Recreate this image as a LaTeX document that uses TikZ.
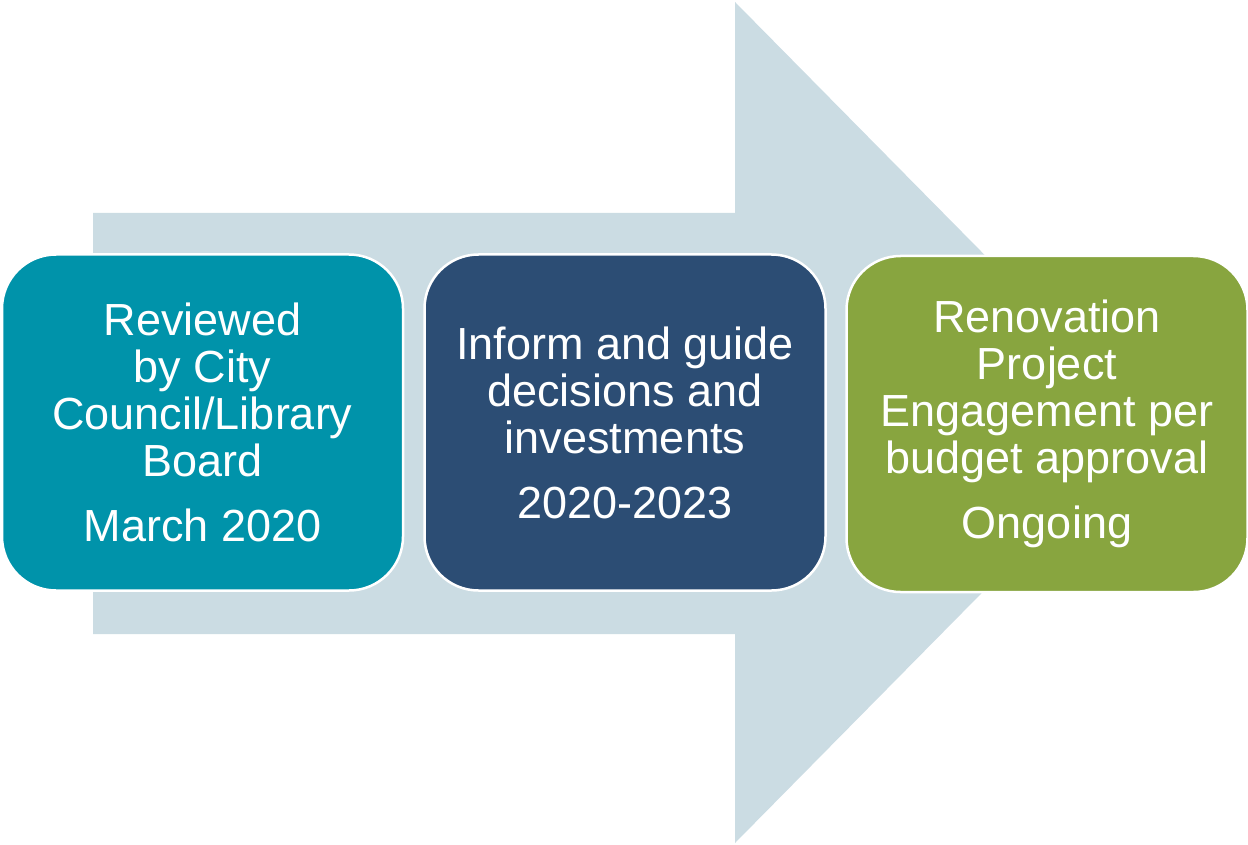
\documentclass[tikz,border=0pt]{standalone}
\usepackage{fontspec}
\setmainfont{Liberation Sans}
\definecolor{arrowc}{HTML}{CBDCE3}
\definecolor{tealc}{HTML}{0093AA}
\definecolor{navyc}{HTML}{2C4D74}
\definecolor{greenc}{HTML}{88A53F}
\begin{document}
\begin{tikzpicture}[x=1pt,y=-1pt,
  card/.style={draw=white, line width=2.5pt, rounded corners=54pt, text=white,
    align=center, inner sep=0pt, minimum width=401pt, minimum height=336pt,
    font=\fontsize{45}{47}\selectfont}]
\useasboundingbox (0,0) rectangle (1248,845);
\fill[arrowc] (93,213) -- (735,213) -- (735,2) -- (1150,422.5) -- (735,843) -- (735,634) -- (93,634) -- cycle;
\node[card, fill=tealc] (b1) at (202.5,422.5) {Reviewed\\by City\\Council/Library\\Board\\[18pt]March 2020};
\node[card, fill=navyc] (b2) at (625,422.5) {Inform and guide\\decisions and\\investments\\[18pt]2020-2023};
\node[card, fill=greenc] (b3) at (1047,424) {Renovation\\Project\\Engagement per\\budget approval\\[18pt]Ongoing};
\end{tikzpicture}
\end{document}
